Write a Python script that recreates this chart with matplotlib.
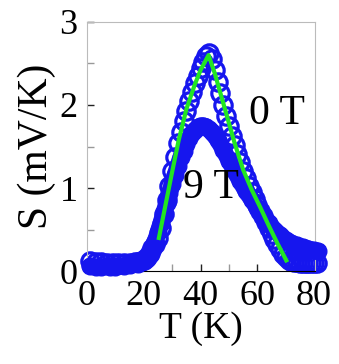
import matplotlib
matplotlib.use("Agg")
import matplotlib.pyplot as plt
from matplotlib.ticker import MultipleLocator

plt.rcParams['font.family'] = ['Liberation Serif', 'DejaVu Serif']

# ── data ──
t_0T = [1, 3, 5, 7, 9, 11, 13, 15, 17, 18, 19, 20, 21, 22, 23, 24, 25, 26, 27, 28, 29,
        30, 31, 32, 33, 34, 35, 36, 37, 38, 39, 40, 41, 42, 43, 44, 45, 46, 47, 48, 49,
        50, 51, 52, 53, 54, 55, 56, 57, 58, 59, 60, 61, 62, 63, 64, 65, 66, 67, 68, 69,
        70, 71, 72, 73, 74, 75, 76, 77, 78, 79, 80, 81]
s_0T = [0.12, 0.11, 0.11, 0.10, 0.10, 0.10, 0.10, 0.10, 0.11, 0.11, 0.12, 0.14, 0.17, 0.22, 0.28, 0.33, 0.40, 0.52, 0.69, 0.86, 1.03,
        1.20, 1.37, 1.54, 1.68, 1.81, 1.93, 2.05, 2.16, 2.26, 2.35, 2.44, 2.52, 2.59, 2.62, 2.55, 2.42, 2.28, 2.14, 2.00, 1.87,
        1.75, 1.63, 1.52, 1.41, 1.31, 1.21, 1.12, 1.03, 0.95, 0.87, 0.80, 0.73, 0.66, 0.59, 0.52, 0.45, 0.39, 0.33, 0.27, 0.21,
        0.17, 0.14, 0.12, 0.11, 0.11, 0.10, 0.10, 0.10, 0.10, 0.10, 0.10, 0.10]

t_9T = [1, 3, 5, 8, 10, 13, 15, 18, 20, 21, 22, 23, 24, 25, 26, 27, 28, 29, 30, 31, 32, 33, 34, 35,
        36, 37, 38, 39, 40, 41, 42, 43, 44, 46, 48, 50, 52, 54, 56, 58, 60, 62, 64, 66, 68, 70,
        72, 74, 76, 78, 80, 81.5]
s_9T = [0.06, 0.05, 0.05, 0.05, 0.05, 0.06, 0.07, 0.09, 0.12, 0.15, 0.20, 0.27, 0.36, 0.47, 0.58, 0.70, 0.82, 0.94, 1.05, 1.16, 1.27, 1.37, 1.45, 1.53,
        1.60, 1.66, 1.70, 1.73, 1.75, 1.75, 1.74, 1.71, 1.67, 1.58, 1.46, 1.33, 1.20, 1.08, 0.96, 0.86, 0.76, 0.66, 0.58, 0.50, 0.44, 0.38,
        0.34, 0.31, 0.29, 0.27, 0.25, 0.24]

# green fit line
t_fit = [25.3, 28, 30, 32.3, 35, 38, 40, 42.8, 45, 47.5, 50, 52, 55, 58, 61, 64, 67, 70.2]
s_fit = [0.40, 0.86, 1.20, 1.58, 1.95, 2.25, 2.42, 2.60, 2.38, 2.08, 1.78, 1.54, 1.22, 0.98, 0.77, 0.55, 0.34, 0.13]

BLUE = '#1616ee'
GREEN = '#22e622'

fig = plt.figure(figsize=(3.39, 3.64), dpi=100)
ax = fig.add_axes([0.257, 0.255, 0.672, 0.685])

ax.plot(t_0T, s_0T, 'o', ms=12.5, mfc='none', mec=BLUE, mew=2.3, clip_on=False, zorder=2)
ax.plot(t_9T, s_9T, '-o', color=BLUE, lw=12, ms=12, mec=BLUE,
        solid_capstyle='round', solid_joinstyle='round', clip_on=False, zorder=3)
ax.plot(t_fit, s_fit, '-', color=GREEN, lw=3, zorder=4)

ax.text(67, 1.9, '0 T', fontsize=30, ha='center', va='center')
ax.text(43.5, 1.0, '9 T', fontsize=30, ha='center', va='center', zorder=5)

ax.set_xlim(0, 80.3)
ax.set_ylim(0, 3)
ax.xaxis.set_major_locator(MultipleLocator(20))
ax.xaxis.set_minor_locator(MultipleLocator(10))
ax.yaxis.set_major_locator(MultipleLocator(1))
ax.yaxis.set_minor_locator(MultipleLocator(0.5))
ax.tick_params(which='both', direction='in', top=False, right=False,
               labelsize=26, colors='#222222', labelcolor='black')
ax.tick_params(which='major', length=5, width=1, pad=7)
ax.tick_params(which='minor', length=5, width=1, color='#999999')
ax.tick_params(axis='x', which='major', pad=6)

for side in ('top', 'right', 'left'):
    ax.spines[side].set_color('#bbbbbb')
ax.spines['bottom'].set_color('black')

ax.set_xlabel('T (K)', fontsize=27, labelpad=-1)
ax.set_ylabel('S (mV/K)', fontsize=30, labelpad=2)

fig.savefig('out.png', dpi=100)
